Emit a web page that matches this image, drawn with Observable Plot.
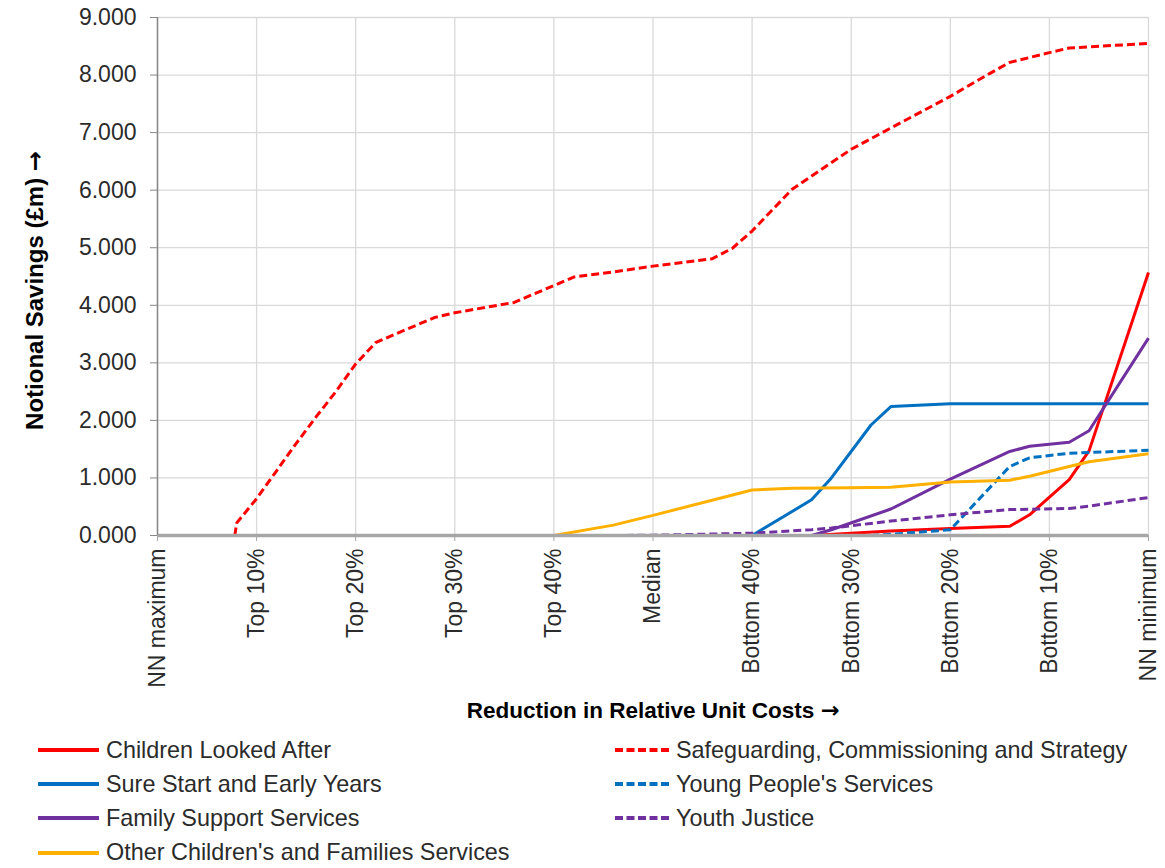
<!DOCTYPE html>
<html>
<head>
<meta charset="utf-8">
<script src="https://cdn.jsdelivr.net/npm/d3@7"></script>
<script src="https://cdn.jsdelivr.net/npm/@observablehq/plot@0.6"></script>
<style>
  html, body { margin: 0; padding: 0; background: #fff; }
  body { font-family: "Liberation Sans", Arial, sans-serif; width: 1165px; }
  #legend { position: relative; height: 136px; color: #2b2b2b; font-size: 23.4px; }
  .item { position: absolute; height: 34px; display: flex; align-items: center; white-space: nowrap; }
  .item svg { display: block; }
</style>
</head>
<body>
<div id="chart"></div>
<div id="legend"></div>
<script>
// Category tick labels (x positions 0..10)
const xLabels = ["NN maximum","Top 10%","Top 20%","Top 30%","Top 40%","Median","Bottom 40%","Bottom 30%","Bottom 20%","Bottom 10%","NN minimum"];
const yTicks = [0,1,2,3,4,5,6,7,8,9];

const yTitle = "Notional Savings (£m) →";
const xTitle = "Reduction in Relative Unit Costs →";

const seriesNames = [
  "Children Looked After",
  "Safeguarding, Commissioning and Strategy",
  "Sure Start and Early Years",
  "Young People's Services",
  "Family Support Services",
  "Youth Justice",
  "Other Children's and Families Services"
];
const seriesColors = ["#FF0000","#FF0000","#0070C0","#0070C0","#7030A0","#7030A0","#FFB000"];
const seriesDashed = [false,true,false,true,false,true,false];

// Children Looked After
const claX = [6.6, 7.0, 7.4, 8.0, 8.6, 8.8, 9.2, 9.4, 10];
const claY = [0, 0.04, 0.08, 0.12, 0.16, 0.36, 0.97, 1.47, 4.57];
// Safeguarding, Commissioning and Strategy
const sgX = [0.78, 0.8, 1.0, 1.2, 1.4, 1.6, 1.8, 2.0, 2.2, 2.4, 2.8, 3.0, 3.6, 4.2, 4.6, 5.0, 5.6, 5.8, 6.0, 6.4, 7.0, 7.4, 8.0, 8.4, 8.6, 9.0, 9.2, 10];
const sgY = [0, 0.22, 0.64, 1.12, 1.6, 2.06, 2.5, 2.98, 3.35, 3.5, 3.79, 3.87, 4.05, 4.49, 4.58, 4.68, 4.81, 4.99, 5.29, 6.01, 6.71, 7.08, 7.63, 8.03, 8.22, 8.39, 8.47, 8.55];
// Sure Start and Early Years
const ssX = [6.0, 6.6, 6.8, 7.2, 7.4, 8.0, 10];
const ssY = [0, 0.62, 1.0, 1.92, 2.24, 2.29, 2.29];
// Young People's Services
const ypX = [7.2, 7.4, 8.0, 8.6, 8.8, 9.2, 10];
const ypY = [0, 0.02, 0.1, 1.2, 1.35, 1.43, 1.48];
// Family Support Services
const fsX = [6.6, 6.8, 7.4, 8.0, 8.6, 8.8, 9.2, 9.4, 10];
const fsY = [0, 0.1, 0.46, 0.98, 1.46, 1.55, 1.62, 1.82, 3.43];
// Youth Justice
const yjX = [4.6, 5.0, 6.0, 6.6, 6.8, 7.4, 8.0, 8.6, 9.2, 9.4, 10];
const yjY = [0, 0.005, 0.04, 0.1, 0.13, 0.25, 0.36, 0.45, 0.47, 0.51, 0.66];
// Other Children's and Families Services
const ocX = [4.0, 4.6, 5.0, 6.0, 6.4, 7.0, 7.4, 8.0, 8.6, 8.8, 9.2, 9.4, 10];
const ocY = [0, 0.18, 0.35, 0.79, 0.82, 0.83, 0.84, 0.93, 0.96, 1.03, 1.2, 1.28, 1.42];

const seriesX = [claX, sgX, ssX, ypX, fsX, yjX, ocX];
const seriesY = [claY, sgY, ssY, ypY, fsY, yjY, ocY];

const rows = seriesNames.flatMap((name, s) => seriesX[s].map((x, i) => ({name, x, y: seriesY[s][i]})));
const xTicks = xLabels.map((_, i) => i);

const lineMarks = seriesNames.map((name, s) =>
  Plot.line(rows.filter(d => d.name === name), {
    x: "x", y: "y",
    stroke: seriesColors[s],
    strokeWidth: 3,
    strokeDasharray: seriesDashed[s] ? "8,4" : null,
    strokeLinejoin: "round",
    strokeLinecap: "butt"
  })
);

const chart = Plot.plot({
  width: 1165,
  height: 732,
  marginTop: 17,
  marginLeft: 157,
  marginRight: 17,
  marginBottom: 197,
  x: {domain: [0, 10]},
  y: {domain: [0, 9]},
  style: {fontFamily: "'Liberation Sans', Arial, sans-serif", fontSize: "23px", color: "#2b2b2b", background: "#fff"},
  marks: [
    Plot.gridY(yTicks, {stroke: "#d9d9d9", strokeOpacity: 1, strokeWidth: 1.3}),
    Plot.gridX(xTicks, {stroke: "#d9d9d9", strokeOpacity: 1, strokeWidth: 1.3}),
    ...lineMarks,
    Plot.ruleY([0], {stroke: "#a6a6a6", strokeWidth: 3.5}),
    Plot.ruleX([0], {stroke: "#888", strokeWidth: 1.5}),
    Plot.axisY(yTicks, {tickFormat: d3.format(".3f"), tickSize: 7, tickPadding: 14, label: null, stroke: "#888", fill: "#2b2b2b"}),
    Plot.axisX(xTicks, {tickFormat: i => xLabels[i], tickRotate: -90, tickSize: 6, tickPadding: 7, label: null, stroke: "#a6a6a6", fill: "#2b2b2b"}),
    Plot.text([yTitle], {text: d => d, frameAnchor: "left", textAnchor: "middle", lineAnchor: "middle", dx: -122, dy: 14, rotate: -90, fontWeight: "bold", fill: "#000", fontSize: 24}),
    Plot.text([xTitle], {text: d => d, frameAnchor: "bottom", textAnchor: "middle", lineAnchor: "middle", dy: 175, fontWeight: "bold", fill: "#000", fontSize: 22.5})
  ]
});
document.getElementById("chart").appendChild(chart);
chart.style.display = "block";

// Render the title arrows with a font that has a full-size arrow glyph
chart.querySelectorAll("text").forEach(t => {
  const s = t.textContent;
  if (s === yTitle || s === xTitle) {
    t.textContent = s.slice(0, -1);
    const ts = document.createElementNS("http://www.w3.org/2000/svg", "tspan");
    ts.setAttribute("font-family", "DejaVu Sans");
    ts.textContent = "→";
    t.appendChild(ts);
  }
});

// Legend
const legend = document.getElementById("legend");
const legendCols = [{x1: 38, x2: 99, text: 106}, {x1: 615, x2: 669, text: 676}];
const legendOrder = [0, 1, 2, 3, 4, 5, 6];
legendOrder.forEach((s, k) => {
  const col = k % 2, row = Math.floor(k / 2);
  const c = legendCols[col];
  const item = document.createElement("div");
  item.className = "item";
  item.style.left = c.x1 + "px";
  item.style.top = (1 + row * 34.2) + "px";
  const w = c.text - c.x1;
  const ns = "http://www.w3.org/2000/svg";
  const svg = document.createElementNS(ns, "svg");
  svg.setAttribute("width", w);
  svg.setAttribute("height", 10);
  const ln = document.createElementNS(ns, "line");
  ln.setAttribute("x1", 0);
  ln.setAttribute("x2", c.x2 - c.x1);
  ln.setAttribute("y1", 5);
  ln.setAttribute("y2", 5);
  ln.setAttribute("stroke", seriesColors[s]);
  ln.setAttribute("stroke-width", 4);
  if (seriesDashed[s]) ln.setAttribute("stroke-dasharray", "8,3.5");
  svg.appendChild(ln);
  const label = document.createElement("span");
  label.textContent = seriesNames[s];
  item.appendChild(svg);
  item.appendChild(label);
  legend.appendChild(item);
});
</script>
</body>
</html>
